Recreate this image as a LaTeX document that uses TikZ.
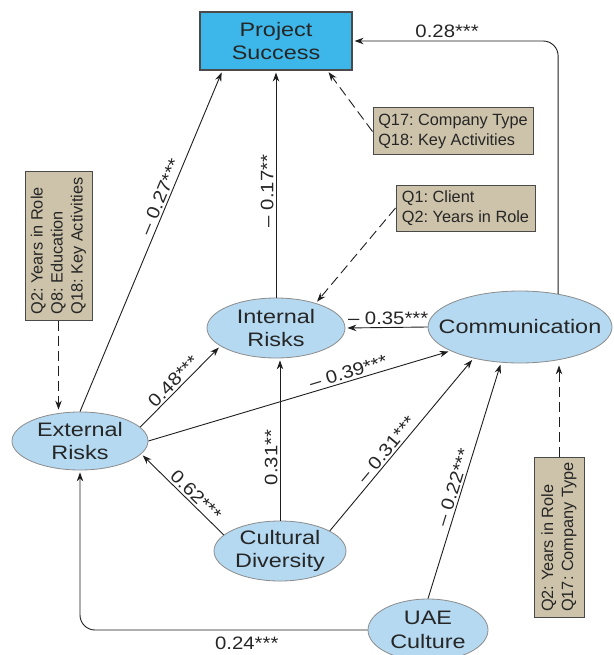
\documentclass[tikz,border=0pt]{standalone}
\usepackage{fontspec}
\setmainfont{Liberation Sans}
\newfontfamily\nodefont[FakeStretch=1.2]{Liberation Sans}
\newfontfamily\coeffont[FakeStretch=1.13]{Liberation Sans}
\usetikzlibrary{shapes.geometric,arrows.meta}
\definecolor{psblue}{HTML}{3DB7E9}
\definecolor{ellblue}{HTML}{B4D9F1}
\definecolor{ellline}{HTML}{8C8C8C}
\definecolor{tanfill}{HTML}{CDC3AA}
\definecolor{tanline}{HTML}{4A4A4A}
\definecolor{linec}{HTML}{1E1E1E}
\frenchspacing
\begin{document}
\begin{tikzpicture}[x=1pt,y=-1pt,
  latent/.style={ellipse, draw=ellline, fill=ellblue, line width=0.8pt, inner sep=0pt},
  lt/.style={font=\nodefont\fontsize{19.5}{23.5}\selectfont, align=center, text=black!85},
  ctrl/.style={rectangle, draw=tanline, fill=tanfill, line width=1pt, inner sep=0pt,
    font=\fontsize{16.3}{20}\selectfont, align=left, text=black!85},
  relarrow/.style={draw=linec, line width=0.9pt, -{Stealth[length=9pt,width=6.5pt,inset=3pt]}, shorten >=2pt},
  ctrlarrow/.style={relarrow, dash pattern=on 10pt off 5pt},
  coef/.style={font=\coeffont\fontsize{18}{20}\selectfont, inner sep=2pt, text=black!85}]
\useasboundingbox (0,0) rectangle (613,655);
\fill[white] (0,0) rectangle (613,655);

% outcome
\node[rectangle, draw=tanline, fill=psblue, line width=1.2pt, minimum width=152pt, minimum height=58pt,
  inner sep=0pt, lt] (ps) at (276,41) {Project\\Success};

% latent constructs
\node[latent, minimum width=138pt, minimum height=60pt, label={[lt]center:Internal\\Risks}] (int) at (276,328) {};
\node[latent, minimum width=184pt, minimum height=72pt, label={[lt]center:Communication}] (com) at (520,327) {};
\node[latent, minimum width=136pt, minimum height=58pt, label={[lt]center:External\\Risks}] (ext) at (80,441) {};
\node[latent, minimum width=132pt, minimum height=60pt, label={[lt]center:Cultural\\Diversity}] (cul) at (280,551) {};
\node[latent, minimum width=120pt, minimum height=62pt, label={[lt]center:UAE\\Culture}] (uae) at (428,630) {};

% control boxes
\node[ctrl, minimum width=160pt, minimum height=47pt] (q17) at (453,131.5) {Q17: Company Type\\Q18: Key Activities};
\node[ctrl, minimum width=139pt, minimum height=46pt] (q1) at (465.5,208) {Q1: Client\\Q2: Years in Role};
\node[ctrl, rotate=90, minimum width=148pt, minimum height=67pt] (b1) at (58.5,246) {Q2: Years in Role\\Q8: Education\\Q18: Key Activities};
\node[ctrl, rotate=90, minimum width=160pt, minimum height=50pt] (b2) at (559,537) {Q2: Years in Role\\Q17: Company Type};

% paths to project success
\draw[relarrow] (ext.north) -- node[coef, sloped, above, pos=0.62] {– 0.27***} ([xshift=23pt]ps.south west);
\draw[relarrow] (int.north) -- node[coef, sloped, above, pos=0.47] {– 0.17**} (ps.south);
\draw[relarrow, rounded corners=15pt] (com.41) |- node[coef, above=1pt, pos=0.77] {0.28***} (ps.east);

% control arrows
\draw[ctrlarrow] (q17.west) -- ([xshift=128pt]ps.south west);
\draw[ctrlarrow] (q1.west) -- (int.32);
\draw[ctrlarrow] (b1.west) -- (b1.west |- ext.north);
\draw[ctrlarrow] (b2.east) -- (b2.east |- com.south);

% structural paths
\draw[relarrow] (ext.13) -- node[coef, sloped, above, pos=0.49] {0.48***} (int.198);
\draw[relarrow] (ext.east) -- node[coef, sloped, above, pos=0.67] {– 0.39***} (com.199);
\draw[relarrow] (com.west) -- node[coef, above, pos=0.48] {– 0.35***} (int.east);
\draw[relarrow] (cul.164) -- node[coef, sloped, above, pos=0.41] {0.62***} (ext.348);
\draw[relarrow] (cul.north) -- node[coef, sloped, above, pos=0.39] {0.31**} (cul.north |- int.south);
\draw[relarrow] (cul.22) -- node[coef, sloped, above, pos=0.44] {– 0.31***} (com.214);
\draw[relarrow] (uae.north) -- node[coef, sloped, above, pos=0.46] {– 0.22***} (com.242);
\draw[relarrow, rounded corners=15pt] (uae.west) -| node[coef, below=4pt, pos=0.21] {0.24***} (ext.south);
\end{tikzpicture}
\end{document}
